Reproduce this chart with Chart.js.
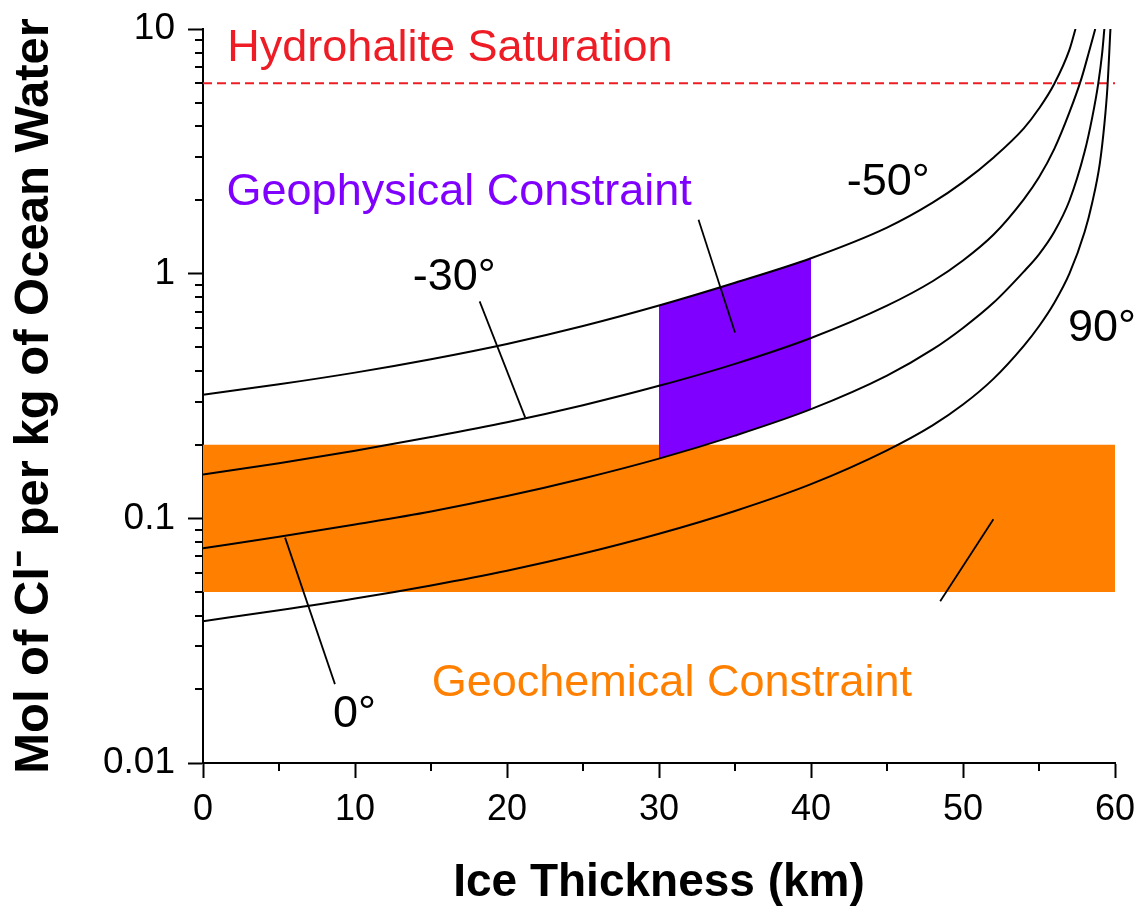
<!DOCTYPE html>
<html>
<head>
<meta charset="utf-8">
<title>Ice thickness vs ocean chloride</title>
<script src="https://cdn.jsdelivr.net/npm/chart.js@4.4.1/dist/chart.umd.min.js"></script>
<style>
  html, body { margin: 0; padding: 0; background: #fff; }
  #wrap { width: 1142px; height: 906px; position: relative; }
</style>
</head>
<body>
<div id="wrap"><canvas id="chart"></canvas></div>
<script>
// ice thickness (km) / mol Cl- per kg
const KM_M50 = [0, 5, 10, 15, 20, 25, 30, 35, 40, 45, 48, 50, 52, 54, 55, 56, 57, 57.4];
const CL_M50 = [0.32, 0.353, 0.394, 0.447, 0.516, 0.611, 0.741, 0.918, 1.156, 1.542, 1.95, 2.366, 2.979, 3.926, 4.73, 5.96, 8.22, 10];

const KM_M30 = [0, 5, 10, 15, 20, 25, 30, 35, 40, 45, 48, 50, 52, 54, 55, 56, 57, 57.8, 58.3, 58.7];
const CL_M30 = [0.151, 0.168, 0.189, 0.215, 0.247, 0.29, 0.348, 0.428, 0.546, 0.74, 0.931, 1.132, 1.442, 2.014, 2.477, 3.228, 4.56, 6.3, 8.11, 10];

const KM_0 = [0, 5, 10, 15, 20, 25, 30, 35, 40, 45, 48, 50, 52, 54, 55, 56, 57, 58, 58.5, 58.9, 59.15, 59.3];
const CL_0 = [0.0755, 0.0841, 0.0944, 0.1067, 0.1233, 0.1455, 0.1754, 0.2178, 0.2793, 0.383, 0.49, 0.6, 0.76, 1.02, 1.2, 1.48, 1.986, 3.148, 4.345, 6.0, 7.91, 10];

const KM_90 = [0, 5, 10, 15, 20, 25, 30, 35, 40, 45, 48, 50, 52, 54, 55, 56, 57, 58, 58.5, 59, 59.3, 59.5, 59.7];
const CL_90 = [0.038, 0.0421, 0.047, 0.0532, 0.0611, 0.0718, 0.0865, 0.1072, 0.138, 0.1897, 0.2399, 0.2917, 0.3715, 0.507, 0.6095, 0.7586, 1.0, 1.479, 1.95, 2.818, 4.074, 5.754, 10];

const HYDROHALITE = 6;
const GEOCHEM_KM = [0, 60];
const GEOCHEM_LOW = 0.05;
const GEOCHEM_HIGH = 0.2;
const GEOPHYS_KM = [30, 40];

const X_TICKS = [0, 10, 20, 30, 40, 50, 60];
const X_MINOR = [5, 15, 25, 35, 45, 55];
const Y_TICKS = [0.01, 0.1, 1, 10];
const Y_MINOR = [0.02, 0.03, 0.04, 0.05, 0.06, 0.07, 0.08, 0.09,
  0.2, 0.3, 0.4, 0.5, 0.6, 0.7, 0.8, 0.9, 2, 3, 4, 5, 6, 7, 8, 9];

// callout leader lines [from, to] in data units
const LEADERS = [
  [[18.2, 0.77], [21.2, 0.258]],
  [[5.4, 0.0834], [8.68, 0.021]],
  [[32.6, 1.66], [35.0, 0.575]],
  [[52.0, 0.0991], [48.5, 0.0458]],
];

const RED = "#ee1c25";
const PURPLE = "#7f00ff";
const ORANGE = "#ff8000";

const LABELS = [
  { text: "Hydrohalite Saturation", x: 1.6, y: 7.4, color: RED },
  { text: "Geophysical Constraint", x: 1.55, y: 1.91, color: PURPLE },
  { text: "Geochemical Constraint", x: 15.05, y: 0.0188, color: ORANGE },
  { text: "-50°", x: 42.35, y: 2.1, color: "#000" },
  { text: "-30°", x: 13.8, y: 0.86, color: "#000" },
  { text: "90°", x: 56.9, y: 0.53, color: "#000" },
  { text: "0°", x: 8.55, y: 0.014, color: "#000" },
];

const FONT = "'Liberation Sans', Arial, sans-serif";

function pts(xs, ys) {
  return xs.map((x, i) => ({ x, y: ys[i] }));
}

function between(xs, ys, lo, hi) {
  return pts(xs, ys).filter((p) => p.x >= lo && p.x <= hi);
}

function curveDataset(xs, ys) {
  return {
    data: pts(xs, ys),
    borderColor: "#000",
    borderWidth: 2,
    pointRadius: 0,
    cubicInterpolationMode: "monotone",
    fill: false,
  };
}

function areaDataset(data, color, fill) {
  return {
    data,
    borderColor: "rgba(0,0,0,0)",
    borderWidth: 0,
    pointRadius: 0,
    cubicInterpolationMode: "monotone",
    backgroundColor: color,
    fill,
  };
}

function noLabelPadding(s) {
  s.paddingTop = 0;
  s.paddingBottom = 0;
  s.paddingLeft = 0;
  s.paddingRight = 0;
}

const overlayPlugin = {
  id: "overlay",
  afterDatasetsDraw(chart) {
    const { ctx, chartArea, scales } = chart;
    const xs = scales.x;
    const ys = scales.y;
    ctx.save();
    ctx.strokeStyle = "#000";
    ctx.lineWidth = 2;
    ctx.beginPath();
    Y_MINOR.forEach((v) => {
      const py = Math.round(ys.getPixelForValue(v));
      ctx.moveTo(chartArea.left - 8, py);
      ctx.lineTo(chartArea.left, py);
    });
    X_MINOR.forEach((v) => {
      const px = Math.round(xs.getPixelForValue(v));
      ctx.moveTo(px, chartArea.bottom);
      ctx.lineTo(px, chartArea.bottom + 8);
    });
    ctx.stroke();

    ctx.font = `45px ${FONT}`;
    ctx.textAlign = "left";
    ctx.textBaseline = "alphabetic";
    LABELS.forEach((l) => {
      ctx.fillStyle = l.color;
      ctx.fillText(l.text, xs.getPixelForValue(l.x), ys.getPixelForValue(l.y));
    });
    ctx.restore();
  },
};

function init() {
  Chart.defaults.font.family = FONT;
  Chart.defaults.color = "#000";

  const datasets = [
    curveDataset(KM_M50, CL_M50),
    curveDataset(KM_M30, CL_M30),
    curveDataset(KM_0, CL_0),
    curveDataset(KM_90, CL_90),
    ...LEADERS.map((seg) => ({
      data: seg.map(([x, y]) => ({ x, y })),
      borderColor: "#000",
      borderWidth: 1.8,
      pointRadius: 0,
      fill: false,
    })),
    {
      data: GEOCHEM_KM.map((x) => ({ x, y: HYDROHALITE })),
      borderColor: RED,
      borderWidth: 2,
      borderDash: [9, 5],
      pointRadius: 0,
      fill: false,
    },
    areaDataset(between(KM_M50, CL_M50, GEOPHYS_KM[0], GEOPHYS_KM[1]), PURPLE, "+1"),
    areaDataset(between(KM_0, CL_0, GEOPHYS_KM[0], GEOPHYS_KM[1]), PURPLE, false),
    areaDataset(GEOCHEM_KM.map((x) => ({ x, y: GEOCHEM_HIGH })), ORANGE, "+1"),
    areaDataset(GEOCHEM_KM.map((x) => ({ x, y: GEOCHEM_LOW })), ORANGE, false),
  ];

  new Chart(document.getElementById("chart"), {
    type: "line",
    data: { datasets },
    plugins: [overlayPlugin],
    options: {
      responsive: true,
      maintainAspectRatio: false,
      animation: false,
      layout: { padding: { top: 29, right: 27, bottom: 0, left: 0 } },
      plugins: {
        legend: { display: false },
        tooltip: { enabled: false },
      },
      events: [],
      scales: {
        x: {
          type: "linear",
          min: 0,
          max: 60,
          afterFit: (s) => { s.height = 143; noLabelPadding(s); },
          afterBuildTicks: (s) => { s.ticks = X_TICKS.map((v) => ({ value: v })); },
          ticks: {
            autoSkip: false,
            maxRotation: 0,
            padding: 10,
            font: { size: 36 },
            callback: (v) => String(v),
          },
          grid: {
            display: true,
            drawOnChartArea: false,
            drawTicks: true,
            tickLength: 15,
            tickWidth: 2,
            tickColor: "#000",
          },
          border: { display: true, color: "#000", width: 2 },
          title: {
            display: true,
            text: "Ice Thickness (km)",
            font: { size: 46, weight: "bold", lineHeight: 1 },
            padding: { top: 3, bottom: 0 },
          },
        },
        y: {
          type: "logarithmic",
          min: 0.01,
          max: 10,
          afterFit: (s) => { s.width = 203; noLabelPadding(s); },
          afterBuildTicks: (s) => { s.ticks = Y_TICKS.map((v) => ({ value: v })); },
          ticks: {
            autoSkip: false,
            padding: 13,
            font: { size: 37 },
            callback: (v) => String(v),
          },
          grid: {
            display: true,
            drawOnChartArea: false,
            drawTicks: true,
            tickLength: 15,
            tickWidth: 2,
            tickColor: "#000",
          },
          border: { display: true, color: "#000", width: 2 },
          title: {
            display: true,
            text: "Mol of Cl\u207B per kg of Ocean Water",
            font: { size: 49, weight: "bold", lineHeight: 1 },
            padding: { top: 10, bottom: 0 },
          },
        },
      },
    },
  });
}

window.addEventListener("DOMContentLoaded", init);
</script>
</body>
</html>
